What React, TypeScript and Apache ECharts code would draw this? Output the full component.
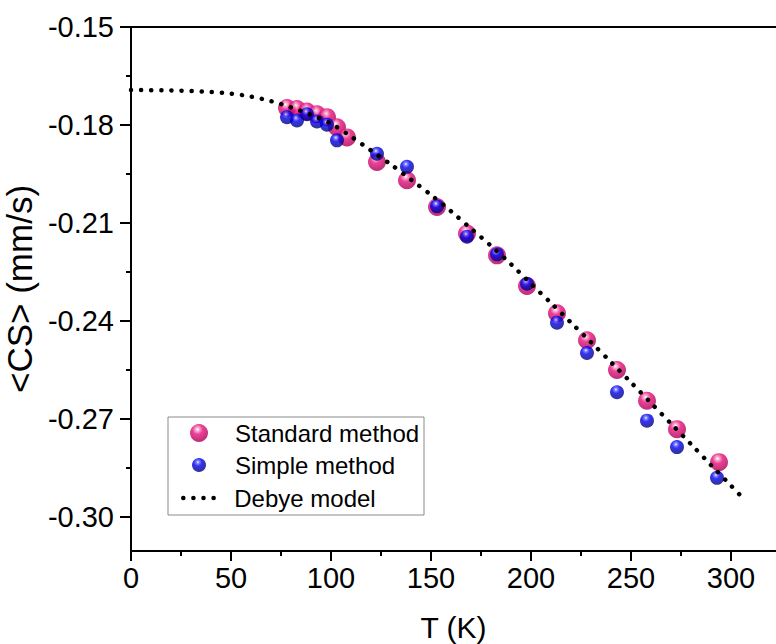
import { useEffect, useRef } from "react";
import * as echarts from "echarts";

// Debye model curve
const debyeT = [0, 20, 40, 50, 60, 70, 80, 90, 100, 110, 120, 130, 140, 150, 160, 170, 180, 190, 200, 210, 220, 230, 240, 250, 260, 270, 280, 290, 300, 305];
const debyeCS = [-0.1693, -0.1694, -0.1699, -0.1704, -0.1713, -0.1727, -0.1746, -0.1769, -0.1796, -0.1835, -0.1878, -0.1921, -0.1967, -0.2014, -0.2064, -0.2117, -0.217, -0.2226, -0.2286, -0.2345, -0.2405, -0.2465, -0.2526, -0.2588, -0.2651, -0.2714, -0.2777, -0.2841, -0.2904, -0.2936];

// Standard method
const standardT = [78, 83, 88, 93, 98, 103, 108, 123, 138, 153, 168, 183, 198, 213, 228, 243, 258, 273, 294];
const standardCS = [-0.1748, -0.1751, -0.1759, -0.1767, -0.1776, -0.1807, -0.1838, -0.1913, -0.1969, -0.2051, -0.2132, -0.2199, -0.2293, -0.2376, -0.2459, -0.255, -0.2644, -0.2731, -0.2832];

// Simple method
const simpleT = [78, 83, 88, 93, 98, 103, 123, 138, 153, 168, 183, 198, 213, 228, 243, 258, 273, 293];
const simpleCS = [-0.1776, -0.1786, -0.1767, -0.1789, -0.1799, -0.1847, -0.1888, -0.1928, -0.2049, -0.2142, -0.2196, -0.2286, -0.2405, -0.2498, -0.2618, -0.2705, -0.2786, -0.288];

// Ticks
const xTickLabels = [0, 50, 100, 150, 200, 250, 300];
const xMinorTicks = [25, 75, 125, 175, 225, 275];
const yTickLabels = [-0.15, -0.18, -0.21, -0.24, -0.27, -0.3];
const yMinorTicks = [-0.165, -0.195, -0.225, -0.255, -0.285];

const FONT = 'Arial, "Liberation Sans", sans-serif';

export default function App() {
  const ref = useRef<HTMLDivElement>(null);

  useEffect(() => {
    if (!ref.current) return;
    const chart = echarts.init(ref.current, undefined, { renderer: "svg" });

    const pink = new echarts.graphic.RadialGradient(0.42, 0.3, 0.62, [
      { offset: 0, color: "#ffffff" },
      { offset: 0.16, color: "#f5a0c8" },
      { offset: 0.45, color: "#e8117c" },
      { offset: 1, color: "#b2005b" },
    ]);
    const blue = new echarts.graphic.RadialGradient(0.42, 0.3, 0.62, [
      { offset: 0, color: "#ffffff" },
      { offset: 0.16, color: "#6a6aff" },
      { offset: 0.45, color: "#0000f0" },
      { offset: 1, color: "#00008c" },
    ]);

    const axisLine = { show: true, onZero: false, lineStyle: { color: "#000", width: 2 } };
    const labelStyle = { color: "#000", fontSize: 29, fontFamily: FONT };
    const legendText = { color: "#000", fontSize: 24, fontFamily: FONT };
    const debyeLine = { color: "#000", width: 4.5, type: [0.1, 10], cap: "round" };

    chart.setOption({
      animation: false,
      backgroundColor: "#fff",
      grid: { left: 131, top: 27, width: 645, height: 524, containLabel: false, outerBoundsMode: "none" },
      xAxis: [
        {
          type: "value",
          min: 0,
          max: 322.5,
          position: "bottom",
          axisLine,
          axisTick: { show: true, customValues: xTickLabels, length: 10, lineStyle: { color: "#000", width: 2 } },
          axisLabel: { show: true, customValues: xTickLabels, margin: 12, ...labelStyle },
          splitLine: { show: false },
          name: "T (K)",
          nameLocation: "middle",
          nameGap: 61,
          nameTextStyle: { color: "#000", fontSize: 30, fontFamily: FONT },
        },
        {
          type: "value",
          min: 0,
          max: 322.5,
          position: "bottom",
          axisLine: { show: false },
          axisTick: { show: true, customValues: xMinorTicks, length: 5, lineStyle: { color: "#000", width: 2 } },
          axisLabel: { show: false },
          splitLine: { show: false },
        },
        {
          type: "value",
          min: 0,
          max: 322.5,
          position: "top",
          axisLine,
          axisTick: { show: false },
          axisLabel: { show: false },
          splitLine: { show: false },
        },
      ],
      yAxis: [
        {
          type: "value",
          min: -0.3104,
          max: -0.15,
          position: "left",
          axisLine,
          axisTick: { show: true, customValues: yTickLabels, length: 11, lineStyle: { color: "#000", width: 2 } },
          axisLabel: {
            show: true,
            customValues: yTickLabels,
            margin: 17,
            formatter: (v: number) => v.toFixed(2),
            ...labelStyle,
          },
          splitLine: { show: false },
          name: "<CS> (mm/s)",
          nameLocation: "middle",
          nameRotate: 90,
          nameGap: 86,
          nameTextStyle: { color: "#000", fontSize: 35, fontFamily: FONT },
        },
        {
          type: "value",
          min: -0.3104,
          max: -0.15,
          position: "left",
          axisLine: { show: false },
          axisTick: { show: true, customValues: yMinorTicks, length: 5, lineStyle: { color: "#000", width: 2 } },
          axisLabel: { show: false },
          splitLine: { show: false },
        },
      ],
      legend: [
        {
          data: ["Standard method"],
          orient: "vertical",
          left: 190,
          top: 421,
          itemWidth: 18,
          itemHeight: 18,
          padding: 0,
          textStyle: { ...legendText, padding: [0, 0, 0, 22] },
        },
        {
          data: ["Simple method"],
          orient: "vertical",
          left: 192,
          top: 453,
          itemWidth: 14,
          itemHeight: 14,
          padding: 0,
          textStyle: { ...legendText, padding: [0, 0, 0, 24] },
        },
        {
          data: ["Debye model"],
          orient: "vertical",
          left: 181,
          top: 486,
          itemWidth: 32,
          itemHeight: 10,
          padding: 0,
          itemStyle: { opacity: 0 },
          lineStyle: { ...debyeLine },
          textStyle: { ...legendText, padding: [0, 0, 0, 14] },
        },
      ],
      graphic: [
        {
          type: "rect",
          shape: { x: 168, y: 417, width: 256, height: 98 },
          style: { fill: "none", stroke: "#8a8a8a", lineWidth: 1 },
          silent: true,
          z: 1,
        },
      ],
      series: [
        {
          name: "Standard method",
          type: "scatter",
          symbol: "circle",
          symbolSize: 18,
          itemStyle: { color: pink },
          data: standardT.map((t, i) => [t, standardCS[i]]),
          z: 2,
        },
        {
          name: "Simple method",
          type: "scatter",
          symbol: "circle",
          symbolSize: 14,
          itemStyle: { color: blue },
          data: simpleT.map((t, i) => [t, simpleCS[i]]),
          z: 3,
        },
        {
          name: "Debye model",
          type: "line",
          showSymbol: false,
          symbol: "none",
          smooth: 0.3,
          itemStyle: { color: "#000" },
          lineStyle: { ...debyeLine },
          data: debyeT.map((t, i) => [t, debyeCS[i]]),
          z: 4,
        },
      ],
    });

    return () => chart.dispose();
  }, []);

  return (
    <div
      ref={ref}
      style={{ position: "absolute", left: 0, top: 0, width: 776, height: 644 }}
    />
  );
}
